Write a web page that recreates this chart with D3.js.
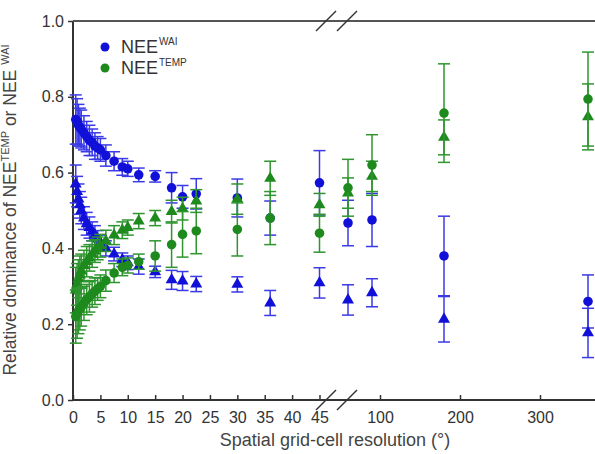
<!DOCTYPE html>
<html>
<head>
<meta charset="utf-8">
<script src="https://cdn.jsdelivr.net/npm/d3@7"></script>
<style>
  body { margin: 0; background: #fff; }
  text { font-family: "Liberation Sans", Arial, sans-serif; fill: #333; }
</style>
</head>
<body>
<svg id="chart" width="595" height="454"></svg>
<script>
// grid-cell resolution (degrees)
var resolution = [0.5, 0.75, 1, 1.25, 1.5, 2, 2.5, 3, 3.5, 4, 4.5, 5, 6, 7.5, 9, 10, 12, 15, 18, 20, 22.5, 30, 36, 45, 60, 90, 180, 360];

// NEE WAI - circles
var waiCircle = [0.74, 0.735, 0.725, 0.72, 0.715, 0.705, 0.695, 0.685, 0.68, 0.67, 0.665, 0.66, 0.645, 0.63, 0.615, 0.61, 0.594, 0.59, 0.56, 0.536, 0.544, 0.533, 0.48, 0.573, 0.467, 0.475, 0.38, 0.26];
var waiCircleErr = [0.065, 0.06, 0.055, 0.05, 0.05, 0.045, 0.04, 0.04, 0.035, 0.035, 0.03, 0.03, 0.028, 0.025, 0.022, 0.02, 0.018, 0.015, 0.04, 0.03, 0.04, 0.05, 0.045, 0.085, 0.06, 0.07, 0.105, 0.07];
// NEE WAI - triangles
var waiTri = [0.57, 0.55, 0.53, 0.515, 0.5, 0.48, 0.465, 0.455, 0.445, 0.435, 0.425, 0.415, 0.4, 0.385, 0.37, 0.362, 0.352, 0.338, 0.317, 0.314, 0.306, 0.305, 0.256, 0.309, 0.264, 0.283, 0.213, 0.177];
var waiTriErr = [0.05, 0.04, 0.04, 0.035, 0.035, 0.03, 0.03, 0.028, 0.025, 0.025, 0.022, 0.02, 0.02, 0.018, 0.018, 0.018, 0.02, 0.015, 0.025, 0.025, 0.02, 0.02, 0.033, 0.04, 0.04, 0.037, 0.06, 0.065];
// NEE TEMP - circles
var tempCircle = [0.22, 0.228, 0.235, 0.24, 0.245, 0.255, 0.265, 0.272, 0.28, 0.287, 0.293, 0.3, 0.315, 0.335, 0.35, 0.355, 0.365, 0.38, 0.41, 0.437, 0.446, 0.45, 0.48, 0.44, 0.56, 0.62, 0.757, 0.794];
var tempCircleErr = [0.07, 0.065, 0.06, 0.055, 0.05, 0.045, 0.04, 0.04, 0.035, 0.035, 0.03, 0.03, 0.028, 0.025, 0.022, 0.02, 0.02, 0.04, 0.06, 0.06, 0.06, 0.07, 0.07, 0.05, 0.075, 0.08, 0.13, 0.124];
// NEE TEMP - triangles
var tempTri = [0.29, 0.305, 0.32, 0.33, 0.34, 0.355, 0.365, 0.375, 0.385, 0.393, 0.4, 0.407, 0.42, 0.435, 0.448, 0.455, 0.472, 0.48, 0.497, 0.505, 0.525, 0.53, 0.585, 0.515, 0.546, 0.59, 0.693, 0.747];
var tempTriErr = [0.06, 0.055, 0.05, 0.05, 0.045, 0.04, 0.04, 0.035, 0.035, 0.03, 0.03, 0.03, 0.028, 0.025, 0.022, 0.02, 0.02, 0.02, 0.03, 0.03, 0.03, 0.04, 0.045, 0.03, 0.04, 0.04, 0.046, 0.087];

var xTicks = [0, 5, 10, 15, 20, 25, 30, 35, 40, 45, 100, 200, 300];
var yTicks = [0, 0.2, 0.4, 0.6, 0.8, 1.0];

var blue = "#1010d8", blueBar = "#3a3ae6";
var green = "#1e8a1e", greenBar = "#2f962f";

var svg = d3.select("#chart");
var plotLeft = 73, plotTop = 21, plotBottom = 400;

// broken x axis: 0-45 linear, then 50-400 compressed
var x = d3.scaleLinear()
  .domain([0, 45, 50, 400])
  .range([plotLeft, 319.5, 340, 620]);
var y = d3.scaleLinear().domain([0, 1]).range([plotBottom, plotTop]);

// y axis
var yAxis = svg.append("g")
  .attr("transform", "translate(" + plotLeft + ",0)")
  .call(d3.axisLeft(y).tickValues(yTicks).tickFormat(d3.format(".1f")).tickSize(5).tickPadding(4));
yAxis.select(".domain").remove();
yAxis.selectAll(".tick line").attr("stroke", "#333").attr("stroke-width", 1.5);
yAxis.selectAll("text").style("font-size", "16px").style("fill", "#333");

// x axis, ticks pointing inward
var xAxis = svg.append("g")
  .attr("transform", "translate(0," + plotBottom + ")")
  .call(d3.axisBottom(x).tickValues(xTicks).tickSizeInner(-5).tickSizeOuter(0).tickPadding(12));
xAxis.select(".domain").remove();
xAxis.selectAll(".tick line").attr("stroke", "#333").attr("stroke-width", 1.5);
xAxis.selectAll("text").style("font-size", "16px").style("fill", "#333");

// frame lines
svg.append("line").attr("x1", plotLeft).attr("x2", plotLeft).attr("y1", plotTop).attr("y2", plotBottom)
  .attr("stroke", "#333").attr("stroke-width", 2);
svg.append("line").attr("x1", plotLeft).attr("x2", 595).attr("y1", plotBottom).attr("y2", plotBottom)
  .attr("stroke", "#333").attr("stroke-width", 2);
svg.append("line").attr("x1", plotLeft).attr("x2", 595).attr("y1", plotTop).attr("y2", plotTop)
  .attr("stroke", "#555").attr("stroke-width", 2);

// break marks
[plotTop, plotBottom].forEach(function(yy) {
  [326, 347].forEach(function(cx) {
    svg.append("line")
      .attr("x1", cx - 10).attr("y1", yy + 10)
      .attr("x2", cx + 10).attr("y2", yy - 10)
      .attr("stroke", "#333").attr("stroke-width", 1.5);
  });
});

var plot = svg.append("g");

function drawSeries(vals, errs, color, barColor, shape) {
  var pts = resolution.map(function(r, i) { return {r: r, v: vals[i], e: errs[i]}; });
  var g = plot.append("g");
  g.selectAll("line.bar").data(pts).enter().append("line")
    .attr("x1", function(d) { return x(d.r); })
    .attr("x2", function(d) { return x(d.r); })
    .attr("y1", function(d) { return y(d.v - d.e); })
    .attr("y2", function(d) { return y(d.v + d.e); })
    .attr("stroke", barColor).attr("stroke-width", 1.5);
  [-1, 1].forEach(function(s) {
    g.selectAll("line.cap" + s).data(pts).enter().append("line")
      .attr("x1", function(d) { return x(d.r) - 6; })
      .attr("x2", function(d) { return x(d.r) + 6; })
      .attr("y1", function(d) { return y(d.v + s * d.e); })
      .attr("y2", function(d) { return y(d.v + s * d.e); })
      .attr("stroke", barColor).attr("stroke-width", 1.5);
  });
  var sym = d3.symbol().type(shape).size(shape === d3.symbolCircle ? 72 : 62);
  g.selectAll("path").data(pts).enter().append("path")
    .attr("d", sym)
    .attr("transform", function(d) { return "translate(" + x(d.r) + "," + y(d.v) + ")"; })
    .attr("fill", color);
}

drawSeries(waiCircle, waiCircleErr, blue, blueBar, d3.symbolCircle);
drawSeries(waiTri, waiTriErr, blue, blueBar, d3.symbolTriangle);
drawSeries(tempTri, tempTriErr, green, greenBar, d3.symbolTriangle);
drawSeries(tempCircle, tempCircleErr, green, greenBar, d3.symbolCircle);

// legend
var legend = [
  {label: "WAI", color: blue, y: 47},
  {label: "TEMP", color: green, y: 68}
];
legend.forEach(function(l) {
  svg.append("circle").attr("cx", 105).attr("cy", l.y).attr("r", 4.5).attr("fill", l.color);
  var t = svg.append("text").attr("x", 121).attr("y", l.y + 6).style("font-size", "18px");
  t.append("tspan").text("NEE");
  t.append("tspan").attr("dy", -8).attr("dx", 1).style("font-size", "10px").text(l.label);
});

// axis titles
svg.append("text")
  .attr("x", 335).attr("y", 446)
  .attr("text-anchor", "middle")
  .style("font-size", "18px").style("fill", "#444")
  .text("Spatial grid-cell resolution (\u00b0)");

var yt = svg.append("text")
  .attr("transform", "translate(16,210) rotate(-90)")
  .attr("text-anchor", "middle")
  .style("font-size", "17.5px").style("fill", "#444");
yt.append("tspan").text("Relative dominance of NEE");
yt.append("tspan").attr("dy", -7).style("font-size", "11px").text("TEMP");
yt.append("tspan").attr("dy", 7).text(" or NEE ");
yt.append("tspan").attr("dy", -7).style("font-size", "11px").text("WAI");
</script>
</body>
</html>
